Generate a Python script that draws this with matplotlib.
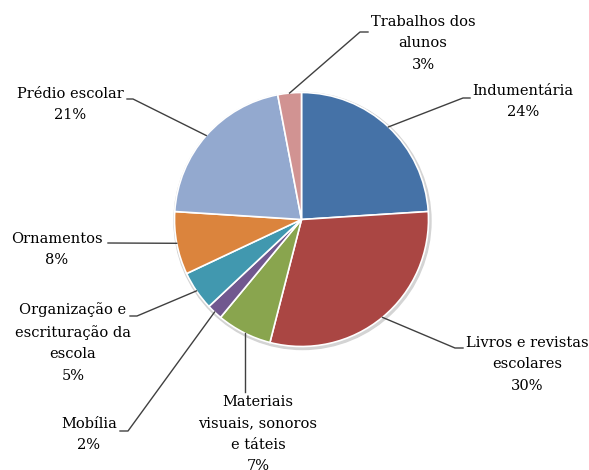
import numpy as np
import matplotlib.pyplot as plt

# data
labels = ['Indumentária', 'Livros e revistas\nescolares', 'Materiais\nvisuais, sonoros\ne táteis',
          'Mobília', 'Organização e\nescrituração da\nescola', 'Ornamentos', 'Prédio escolar',
          'Trabalhos dos\nalunos']
values = [24, 30, 7, 2, 5, 8, 21, 3]
colors = ['#4572A7', '#AA4643', '#89A54E', '#71588F', '#4198AF', '#DB843D', '#93A9CF', '#D19392']

# label layout in pixels (text centre x, first line centre y, elbow x, elbow y, line end x)
label_pos = [(523, 92, 463, 98, 470),
             (527, 344, 455, 348, 463),
             (258, 403, 245, 392, 245),
             (89, 425, 128, 431, 120),
             (73, 310, 137, 316, 130),
             (57, 240, 108, 243, 108),
             (70, 95, 133, 99, 127),
             (423, 23, 360, 32, 368)]

W, H = 589, 470
cx, cy, r = 301.5, 219.5, 127

fig = plt.figure(figsize=(W / 100, H / 100), dpi=100)
ax = fig.add_axes([0, 0, 1, 1])

# faint shadow ring
ax.add_patch(plt.Circle((cx + 1, H - cy - 1.5), r + 1.5, color='#d4d4d4', zorder=0))

ax.pie(values, colors=colors, startangle=90, counterclock=False, center=(cx, H - cy), radius=r,
       wedgeprops=dict(edgecolor='white', linewidth=1.2), frame=True)
ax.set_xlim(0, W)
ax.set_ylim(0, H)
ax.axis('off')

total = sum(values)
cum = 0
for lab, v, pos in zip(labels, values, label_pos):
    mid = (cum + v / 2) / total * 2 * np.pi
    cum += v
    sx = cx + r * np.sin(mid)
    sy = cy - r * np.cos(mid)
    tx, ty, ex, ey, lx = pos
    if lx == ex and abs(ex - sx) < 4:
        sx = ex
    ax.plot([sx, ex, lx], [H - sy, H - ey, H - ey], color='#404040', lw=1, zorder=5)
    ax.text(tx, H - ty + 8, lab + '\n' + str(v) + '%', ha='center', va='top', fontsize=10.5,
            family='DejaVu Serif', color='#000000', linespacing=1.68)

fig.savefig('out.png', dpi=100)
